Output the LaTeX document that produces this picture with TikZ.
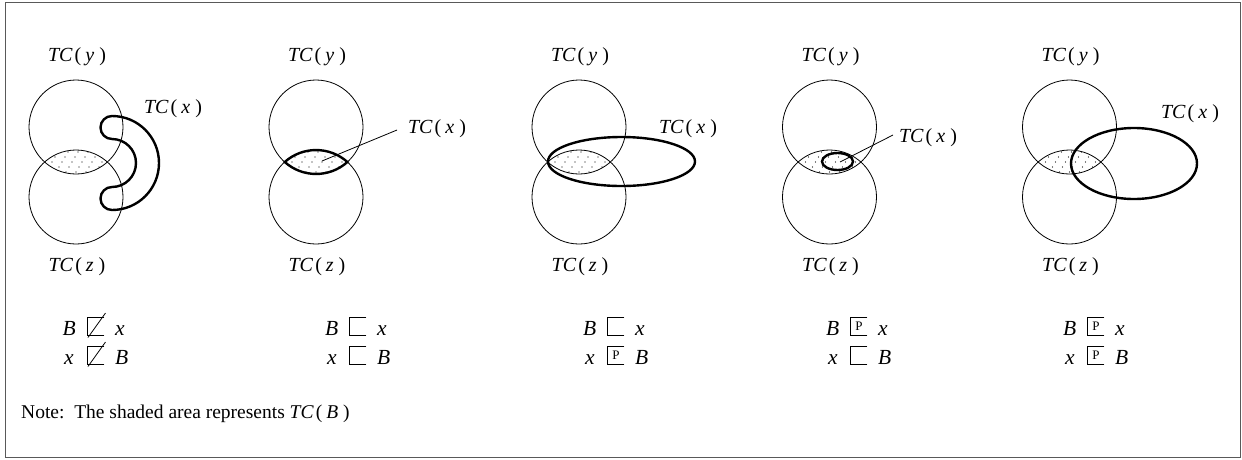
\documentclass[tikz,border=0pt]{standalone}
\usepackage{fontspec}
\setmainfont{Liberation Serif}
\newcommand\tcl[1]{\textit{TC}\kern2pt(\kern4pt\textit{#1}\kern5pt)}
\tikzset{
  thinline/.style={line width=0.8pt},
  thickline/.style={line width=2.4pt},
  lbl/.style={font=\fontsize{20}{24}\selectfont, inner sep=0pt, anchor=base},
  rel/.style={font=\fontsize{21.5}{25}\selectfont, inner sep=0pt},
  sqbox/.pic={\draw[thinline,line cap=rect] (8.5,-18) -- (-8.5,-18) -- (-8.5,0) -- (8.5,0);},
  sqP/.pic={\draw[thinline,line cap=rect] (8.5,-18) -- (-8.5,-18) -- (-8.5,0) -- (8.5,0);
            \node[font=\fontsize{13}{15}\selectfont, inner sep=0pt] (-p) at (0.5,-9) {P};},
  sqnot/.pic={\draw[thinline,line cap=rect] (8.5,-18) -- (-8.5,-18) -- (-8.5,0) -- (8.5,0);
            \draw[thinline] (-7.5,2.5) -- (10,-22);},
}
\begin{document}
\begin{tikzpicture}[x=1pt,y=-1pt]
\useasboundingbox (0,0) rectangle (1242,459);
\draw[black!65, line width=1pt] (5,2) rectangle (1240,457);

% circles, shading and TC(y)/TC(z) labels
\foreach \cx [count=\i] in {76,316,579,829.5,1069.5} {
  \begin{scope}
    \clip (\cx,127) circle[radius=47];
    \clip (\cx,197) circle[radius=47];
    \foreach \k in {0,...,6} {
      \foreach \m in {-5,...,5} {
        \fill (\cx-3+10*\m+3*\k, 177-5*\k) circle[radius=0.6];
      }
    }
  \end{scope}
  \draw[thinline] (\cx,127) circle[radius=47];
  \draw[thinline] (\cx,197) circle[radius=47];
  \node[lbl] (ty\i) at (\cx+1,61) {\tcl{y}};
  \node[lbl] (tz\i) at (\cx+1,271) {\tcl{z}};
}

% panel 1: horseshoe
\draw[thickline] (112,116) arc[start angle=-90,end angle=90,radius=47]
  arc[start angle=90,end angle=270,radius=11.5]
  arc[start angle=90,end angle=-90,radius=24]
  arc[start angle=90,end angle=270,radius=11.5] -- cycle;
\node[lbl] (tx1) at (173,113) {\tcl{x}};

% panel 2: lens outline
\draw[thickline] (347.4,162) arc[start angle=48.2,end angle=131.8,radius=47]
  arc[start angle=-131.8,end angle=-48.2,radius=47] -- cycle;
\node[lbl] (tx2) at (437,133) {\tcl{x}};
\coordinate (l2a) at (397,130);
\coordinate (l2b) at (322,161);
\draw[thinline] (l2a) -- (l2b);

% panel 3
\draw[thickline] (621.5,161.5) ellipse[x radius=73.5,y radius=24.5];
\node[lbl] (tx3) at (688,133) {\tcl{x}};

% panel 4
\draw[thickline] (837.5,161.5) ellipse[x radius=15.5,y radius=8.5];
\node[lbl] (tx4) at (928,142) {\tcl{x}};
\coordinate (l4a) at (893,135);
\coordinate (l4b) at (840,162);
\draw[thinline] (l4a) -- (l4b);

% panel 5
\draw[thickline] (1134,163.5) ellipse[x radius=63,y radius=35.5];
\node[lbl] (tx5) at (1190,118) {\tcl{x}};

% relations
\def\ra{335}
\def\rb{364}
% panel 1
\node[rel,anchor=base west] (a1) at (62.5,\ra) {\textit{B}};
\pic (s1) at (95.5,\ra) {sqnot};
\node[rel,anchor=base west] (b1) at (115,\ra) {\textit{x}};
\node[rel,anchor=base west] (c1) at (64,\rb) {\textit{x}};
\pic (t1) at (95.5,\rb) {sqnot};
\node[rel,anchor=base west] (d1) at (115,\rb) {\textit{B}};
% panel 2
\node[rel,anchor=base west] (a2) at (325,\ra) {\textit{B}};
\pic (s2) at (357.5,\ra) {sqbox};
\node[rel,anchor=base west] (b2) at (377,\ra) {\textit{x}};
\node[rel,anchor=base west] (c2) at (327,\rb) {\textit{x}};
\pic (t2) at (357.5,\rb) {sqbox};
\node[rel,anchor=base west] (d2) at (377,\rb) {\textit{B}};
% panel 3
\node[rel,anchor=base west] (a3) at (583,\ra) {\textit{B}};
\pic (s3) at (615.5,\ra) {sqbox};
\node[rel,anchor=base west] (b3) at (635,\ra) {\textit{x}};
\node[rel,anchor=base west] (c3) at (585,\rb) {\textit{x}};
\pic (t3) at (615.5,\rb) {sqP};
\node[rel,anchor=base west] (d3) at (635,\rb) {\textit{B}};
% panel 4
\node[rel,anchor=base west] (a4) at (826,\ra) {\textit{B}};
\pic (s4) at (858.5,\ra) {sqP};
\node[rel,anchor=base west] (b4) at (878,\ra) {\textit{x}};
\node[rel,anchor=base west] (c4) at (828,\rb) {\textit{x}};
\pic (t4) at (858.5,\rb) {sqbox};
\node[rel,anchor=base west] (d4) at (878,\rb) {\textit{B}};
% panel 5
\node[rel,anchor=base west] (a5) at (1063,\ra) {\textit{B}};
\pic (s5) at (1095.5,\ra) {sqP};
\node[rel,anchor=base west] (b5) at (1115,\ra) {\textit{x}};
\node[rel,anchor=base west] (c5) at (1065,\rb) {\textit{x}};
\pic (t5) at (1095.5,\rb) {sqP};
\node[rel,anchor=base west] (d5) at (1115,\rb) {\textit{B}};

% note
\node[font=\fontsize{19.5}{23}\selectfont, inner sep=0pt, anchor=base west] (note) at (21,418)
  {Note:\ \ The shaded area represents \tcl{B}};
\end{tikzpicture}
\end{document}
